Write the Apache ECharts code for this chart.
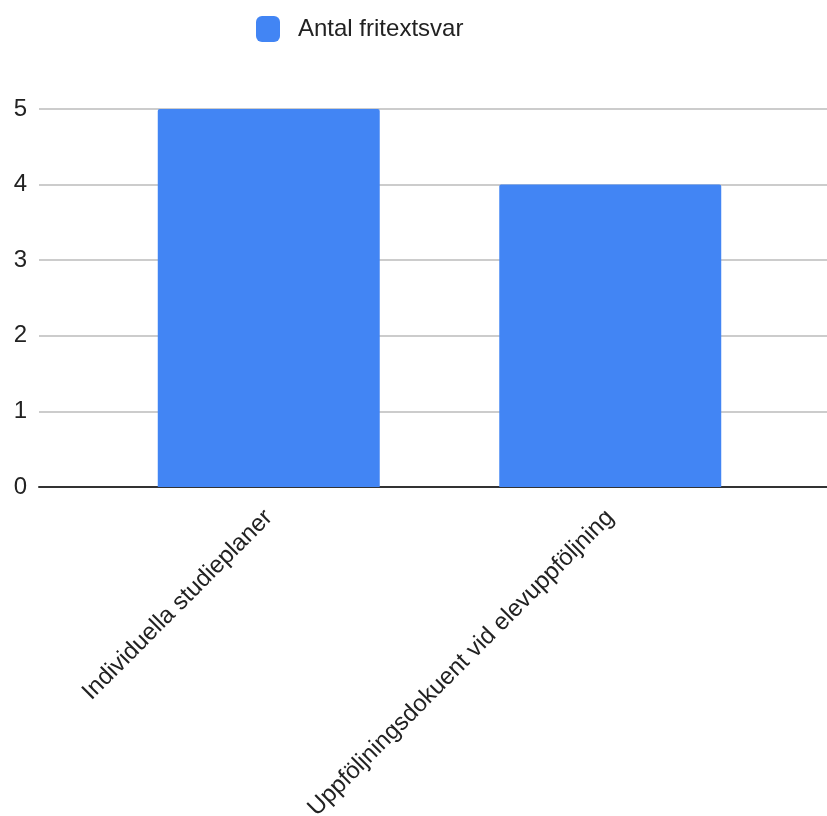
<!DOCTYPE html>
<html><head><meta charset="utf-8">
<script src="https://cdn.jsdelivr.net/npm/echarts@6/dist/echarts.min.js"></script>
<style>html,body{margin:0;padding:0;background:#fff}#c{width:827px;height:816px}</style>
</head><body><div id="c"></div>
<script>
const categories = ["Individuella studieplaner", "Uppföljningsdokuent vid elevuppföljning"];
const seriesName = "Antal fritextsvar";
const values = [5, 4];
const yTicks = [0, 1, 2, 3, 4, 5];

const FONT = '"Liberation Sans", Arial, sans-serif';
const chart = echarts.init(document.getElementById('c'), null, {renderer: 'canvas'});
chart.setOption({
  animation: false,
  backgroundColor: '#ffffff',
  legend: {
    top: 16, left: 256, padding: 0,
    itemWidth: 24, itemHeight: 26,
    icon: 'roundRect',
    textStyle: {fontFamily: FONT, fontSize: 24, color: '#222', padding: [0, 0, 0, 13]},
    data: [seriesName]
  },
  grid: [
    {left: 39, right: 0, top: 109, bottom: 329, containLabel: false, outerBoundsMode: 'none'},
    {left: 98, right: 46, top: 109, bottom: 329, containLabel: false, outerBoundsMode: 'none'}
  ],
  xAxis: [
    {gridIndex: 0, type: 'value', min: 0, max: 1, show: true,
     axisLine: {show: true, onZero: false, lineStyle: {color: '#333', width: 2}},
     axisTick: {show: false}, axisLabel: {show: false}, splitLine: {show: false}},
    {gridIndex: 1, type: 'category', data: categories, boundaryGap: true,
     axisLine: {show: false}, axisTick: {show: false},
     axisLabel: {rotate: 45, margin: 27, interval: 0, fontFamily: FONT, fontSize: 24, color: '#222'}}
  ],
  yAxis: [
    {gridIndex: 0, type: 'value', min: yTicks[0], max: yTicks[yTicks.length - 1], interval: 1,
     axisLine: {show: false}, axisTick: {show: false},
     axisLabel: {margin: 12, fontFamily: FONT, fontSize: 24, color: '#222'},
     splitLine: {lineStyle: {color: '#cccccc', width: 2}}},
    {gridIndex: 1, type: 'value', min: yTicks[0], max: yTicks[yTicks.length - 1], interval: 1, show: false,
     splitLine: {show: false}}
  ],
  series: [{
    name: seriesName, type: 'bar', xAxisIndex: 1, yAxisIndex: 1,
    data: values, barCategoryGap: '35%',
    itemStyle: {color: '#4285F4', borderRadius: [2, 2, 0, 0]}
  }]
});
</script></body></html>
